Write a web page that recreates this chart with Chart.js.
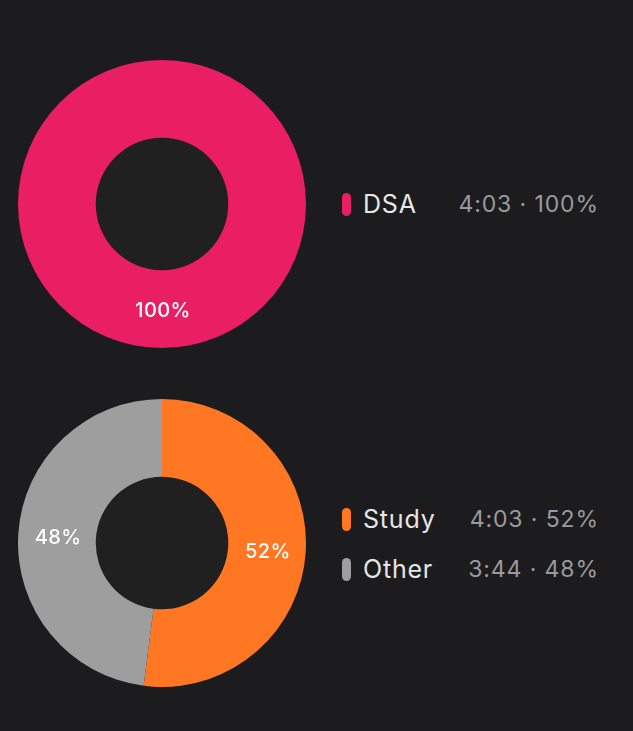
<!DOCTYPE html>
<html>
<head>
<meta charset="utf-8">
<script src="https://cdn.jsdelivr.net/npm/chart.js@4/dist/chart.umd.min.js"></script>
<style>
  html, body { margin: 0; padding: 0; background: #1c1c1e; }
  body { width: 633px; height: 731px; position: relative; overflow: hidden; font-family: Inter, "Noto Sans", sans-serif; }
  .chartBox { position: absolute; left: 18px; width: 288px; height: 288px; }
  .legend { position: absolute; left: 342px; width: 256px; }
  .row { display: flex; align-items: center; height: 50px; }
  .swatch { width: 9px; height: 23px; border-radius: 5px; margin-right: 12px; }
  .name { color: #e6e6e6; font-size: 25px; letter-spacing: 0.8px; flex: 1; }
  .val { color: #9a9a9c; font-size: 23px; letter-spacing: 0.9px; text-align: right; margin-right: -1px; }
</style>
</head>
<body>
<div class="chartBox" style="top:60px"><canvas id="topChart"></canvas></div>
<div class="legend" id="topLegend" style="top:179px"></div>
<div class="chartBox" style="top:399px"><canvas id="bottomChart"></canvas></div>
<div class="legend" id="bottomLegend" style="top:494px"></div>

<script>
// minutes tracked
const topLabels = ['DSA'];
const topValues = [243];
const topTimes = ['4:03'];
const topColors = ['#e91e63'];

const bottomLabels = ['Study', 'Other'];
const bottomValues = [243, 224];
const bottomTimes = ['4:03', '3:44'];
const bottomColors = ['#ff7722', '#9e9e9e'];

function pct(values, i) {
  const total = values.reduce((a, b) => a + b, 0);
  return Math.round(values[i] / total * 100);
}

// draws the % text in the middle of each arc + fills the hole
const sliceLabels = {
  id: 'sliceLabels',
  beforeDatasetsDraw(chart) {
    const arc = chart.getDatasetMeta(0).data[0];
    if (!arc) return;
    const ctx = chart.ctx;
    ctx.save();
    ctx.fillStyle = '#202021';
    ctx.beginPath();
    ctx.arc(arc.x, arc.y, arc.innerRadius, 0, Math.PI * 2);
    ctx.fill();
    ctx.restore();
  },
  afterDatasetsDraw(chart) {
    const ctx = chart.ctx;
    const values = chart.data.datasets[0].data;
    ctx.save();
    ctx.fillStyle = '#ffffff';
    ctx.font = '500 20px Inter, "Noto Sans", sans-serif';
    ctx.letterSpacing = '0.4px';
    ctx.textAlign = 'center';
    ctx.textBaseline = 'middle';
    chart.getDatasetMeta(0).data.forEach((arc, i) => {
      let p = arc.tooltipPosition();
      if (values.length === 1) {
        // full ring: put it at the bottom
        const r = (arc.innerRadius + arc.outerRadius) / 2;
        p = { x: arc.x, y: arc.y + r };
      }
      ctx.fillText(pct(values, i) + '%', p.x + 1, p.y + 2);
    });
    ctx.restore();
  }
};

function drawDonut(id, labels, values, colors) {
  const ctx = document.getElementById(id).getContext('2d');
  return new Chart(ctx, {
    type: 'doughnut',
    data: {
      labels: labels,
      datasets: [{
        data: values,
        backgroundColor: colors,
        borderWidth: 0
      }]
    },
    options: {
      responsive: true,
      maintainAspectRatio: false,
      animation: false,
      cutout: '46%',
      layout: { padding: 0 },
      plugins: {
        legend: { display: false },
        tooltip: { enabled: false }
      }
    },
    plugins: [sliceLabels]
  });
}

function buildLegend(id, labels, values, times, colors) {
  const box = document.getElementById(id);
  box.innerHTML = '';
  labels.forEach((label, i) => {
    const row = document.createElement('div');
    row.className = 'row';
    row.innerHTML = `
      <span class="swatch" style="background:${colors[i]}"></span>
      <span class="name">${label}</span>
      <span class="val">${times[i]} · ${pct(values, i)}%</span>
    `;
    box.appendChild(row);
  });
}

drawDonut('topChart', topLabels, topValues, topColors);
buildLegend('topLegend', topLabels, topValues, topTimes, topColors);
drawDonut('bottomChart', bottomLabels, bottomValues, bottomColors);
buildLegend('bottomLegend', bottomLabels, bottomValues, bottomTimes, bottomColors);
</script>
</body>
</html>
